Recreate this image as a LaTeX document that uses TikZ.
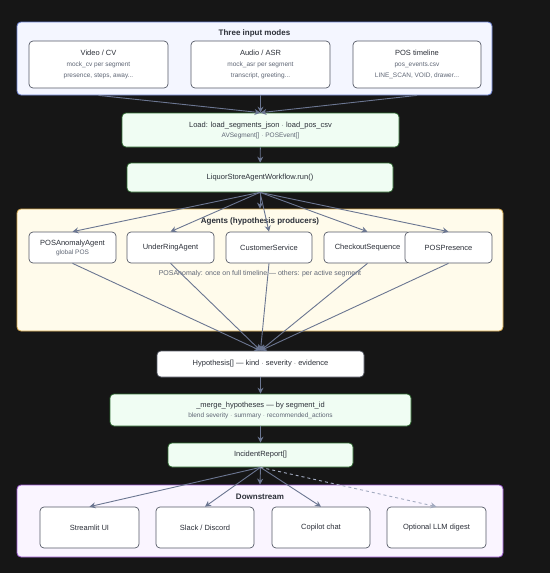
\documentclass[tikz,border=0pt]{standalone}
\usepackage{fontspec}
\setmainfont{Liberation Sans}
\usepackage{xcolor}
\usepackage{tikz}
\usetikzlibrary{positioning}
\usetikzlibrary{calc,arrows,arrows.meta}

\definecolor{bgdark}{HTML}{161616}
\definecolor{boxline}{HTML}{555A66}
\definecolor{txt}{HTML}{2B2F38}
\definecolor{subtxt}{HTML}{5F6675}
\definecolor{edge}{HTML}{6B7691}
\definecolor{edgelight}{HTML}{A3ABC0}
\definecolor{bluefill}{HTML}{F4F6FF}
\definecolor{blueline}{HTML}{6A80D0}
\definecolor{greenfill}{HTML}{F0FDF3}
\definecolor{greenline}{HTML}{2E6B30}
\definecolor{yellowfill}{HTML}{FFFBEB}
\definecolor{yellowline}{HTML}{D4A84E}
\definecolor{purplefill}{HTML}{FAF5FF}
\definecolor{purpleline}{HTML}{9B59D0}

\newcommand{\subline}[1]{{\fontsize{6.5}{11}\selectfont\color{subtxt}#1}}

\begin{document}
\begin{tikzpicture}[x=1pt, y=-1pt, >={Stealth[length=6pt,width=6pt]},
    cluster/.style={rectangle, rounded corners=4pt, line width=0.8pt, inner sep=0pt},
    title/.style={font=\fontsize{8}{9}\selectfont\bfseries, text=txt, inner sep=1pt},
    modebox/.style={rectangle, rounded corners=4pt, draw=boxline, fill=white,
      line width=0.7pt, inner sep=0pt, align=center, text=txt,
      font=\fontsize{7.5}{11}\selectfont},
    stepbox/.style={modebox, draw=greenline, fill=greenfill},
    flow/.style={->, draw=edge, line width=0.9pt},
    optflow/.style={flow, draw=edgelight, dashed}]

  \fill[bgdark] (0,0) rectangle (550,573);
  \useasboundingbox (0,0) rectangle (550,573);

  % input modes
  \node[cluster, draw=blueline, fill=bluefill, minimum width=475pt, minimum height=73pt]
    (modes) at (254.5,58.5) {};
  \node[title] (modesT) at (254.5,33) {Three input modes};
  \node[modebox, minimum width=139pt, minimum height=47pt] (video) at (98.5,64.5)
    {Video / CV\\ \subline{mock\_cv per segment}\\ \subline{presence, steps, away...}};
  \node[modebox, minimum width=139pt, minimum height=47pt] (audio) at (260.5,64.5)
    {Audio / ASR\\ \subline{mock\_asr per segment}\\ \subline{transcript, greeting...}};
  \node[modebox, minimum width=128pt, minimum height=47pt] (pos) at (417,64.5)
    {POS timeline\\ \subline{pos\_events.csv}\\ \subline{LINE\_SCAN, VOID, drawer...}};

  \node[stepbox, minimum width=277pt, minimum height=34pt] (load) at (260.5,130)
    {Load: load\_segments\_json $\cdot$ load\_pos\_csv\\[-1pt] \subline{AVSegment[] $\cdot$ POSEvent[]}};
  \node[stepbox, minimum width=266pt, minimum height=29pt] (wf) at (260,177.5)
    {LiquorStoreAgentWorkflow.run()};

  % agents
  \node[cluster, draw=yellowline, fill=yellowfill, minimum width=486pt, minimum height=122pt]
    (agents) at (260,270) {};
  \node[title] (agentsT) at (260,221) {Agents (hypothesis producers)};
  \node[modebox, minimum width=87pt, minimum height=31pt] (posa) at (72.5,247.5)
    {POSAnomalyAgent\\[-2pt] \subline{global POS}};
  \node[modebox, minimum width=87pt, minimum height=31pt] (under) at (170.5,247.5) {UnderRingAgent};
  \node[modebox, minimum width=86pt, minimum height=31pt] (cust) at (269,247.5) {CustomerService};
  \node[modebox, minimum width=87pt, minimum height=31pt] (check) at (367.5,247.5) {CheckoutSequence};
  \node[modebox, minimum width=87pt, minimum height=31pt] (pres) at (448.5,247.5) {POSPresence};
  \node[text=subtxt, font=\fontsize{7}{8}\selectfont, inner sep=0pt] (note) at (260,274)
    {POSAnomaly: once on full timeline --- others: per active segment};

  \node[modebox, minimum width=207pt, minimum height=26pt] (hyp) at (260.5,364)
    {Hypothesis[] --- kind $\cdot$ severity $\cdot$ evidence};
  \node[stepbox, minimum width=301pt, minimum height=32pt] (merge) at (260.5,410)
    {\_merge\_hypotheses --- by segment\_id\\[-1pt] \subline{blend severity $\cdot$ summary $\cdot$ recommended\_actions}};
  \node[stepbox, minimum width=185pt, minimum height=24pt] (inc) at (260.5,455) {IncidentReport[]};

  % downstream
  \node[cluster, draw=purpleline, fill=purplefill, minimum width=486pt, minimum height=72pt]
    (down) at (260,521) {};
  \node[title] (downT) at (260,497) {Downstream};
  \node[modebox, minimum width=99pt, minimum height=41pt] (ui) at (89.5,527.5) {Streamlit UI};
  \node[modebox, minimum width=98pt, minimum height=41pt] (slack) at (205,527.5) {Slack / Discord};
  \node[modebox, minimum width=98pt, minimum height=41pt] (copilot) at (321,527.5) {Copilot chat};
  \node[modebox, minimum width=99pt, minimum height=41pt] (llm) at (436.5,527.5) {Optional LLM digest};

  % edges
  \foreach \src in {video,audio,pos}
    \draw[flow] (\src.south |- modes.south) -- (load.north);
  \draw[flow] (load) -- (wf);
  \draw[flow] (wf.south) -- (agents.north);
  \foreach \dst in {posa,under,cust,check,pres} {
    \draw[flow] (wf.south) -- (\dst.north);
    \draw[flow] (\dst.south) -- (hyp.north);
  }
  \draw[flow] (hyp) -- (merge);
  \draw[flow] (merge) -- (inc);
  \draw[flow] (inc.south) -- (down.north);
  \foreach \dst in {ui,slack,copilot}
    \draw[flow] (inc.south) -- (\dst.north);
  \draw[optflow] (inc.south) -- (llm.north);
\end{tikzpicture}
\end{document}
